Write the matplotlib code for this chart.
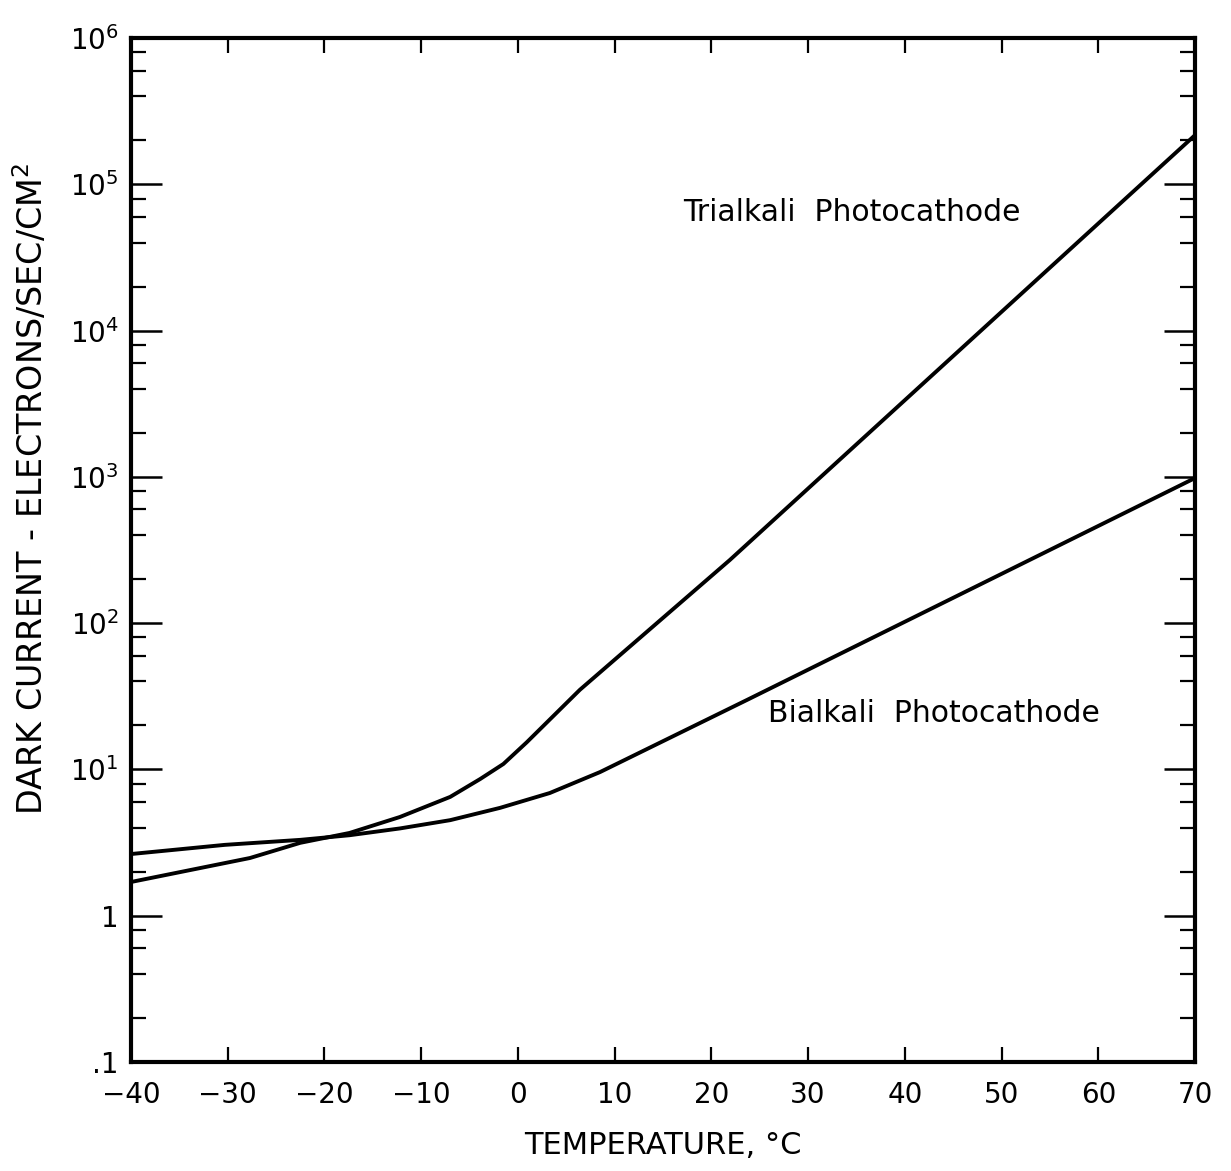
import matplotlib
matplotlib.use("Agg")
import matplotlib.pyplot as plt
from matplotlib.ticker import LogLocator, NullFormatter

# values (temperature in deg C, dark current e-/s/cm^2)
tri_temp = [-40, -27.7, -22.5, -17.4, -12.2, -7.0, -3.9, -1.5, 0.9, 6.4, 21.9, 70]
tri_current = [1.70, 2.48, 3.15, 3.68, 4.73, 6.49, 8.6, 10.9, 15.3, 35, 270, 2.17e5]

bi_temp = [-40, -30.3, -22.5, -17.4, -12.2, -7.0, -1.85, 3.3, 8.5, 23.7, 70]
bi_current = [2.64, 3.05, 3.30, 3.55, 3.95, 4.5, 5.46, 6.9, 9.6, 29.9, 982]

x_ticks = [-40, -30, -20, -10, 0, 10, 20, 30, 40, 50, 60, 70]
x_labels = ["\u221240", "\u221230", "\u221220", "\u221210", "0", "10", "20", "30",
            "40", "50", "60", "70"]
y_ticks = [0.1, 1, 10, 1e2, 1e3, 1e4, 1e5, 1e6]
y_labels = [".1", "1", "$10^1$", "$10^2$", "$10^3$", "$10^4$", "$10^5$", "$10^6$"]

fig = plt.figure(figsize=(12.31, 11.71), dpi=100)
ax = fig.add_axes([0.1064, 0.0931, 0.8644, 0.8744])

ax.plot(tri_temp, tri_current, color="black", lw=2.8, solid_capstyle="round",
        solid_joinstyle="round")
ax.plot(bi_temp, bi_current, color="black", lw=2.8, solid_capstyle="round",
        solid_joinstyle="round")

ax.set_yscale("log")
ax.set_xlim(-40, 70)
ax.set_ylim(0.1, 1e6)

ax.set_xticks(x_ticks)
ax.set_xticklabels(x_labels, fontsize=20)
ax.set_yticks(y_ticks)
ax.set_yticklabels(y_labels, fontsize=20)
ax.yaxis.set_minor_locator(LogLocator(base=10, subs=[2, 4, 6, 8]))
ax.yaxis.set_minor_formatter(NullFormatter())

ax.tick_params(axis="x", which="major", direction="in", length=11, width=1.6,
               top=True, pad=14)
ax.tick_params(axis="y", which="major", direction="in", length=22, width=1.8,
               right=True, pad=9)
ax.tick_params(axis="y", which="minor", direction="in", length=11, width=1.6,
               right=True)

for s in ax.spines.values():
    s.set_linewidth(3)

ax.set_xlabel("TEMPERATURE, °C", fontsize=22)
ax.xaxis.set_label_coords(0.5, -0.067)
ax.set_ylabel("DARK CURRENT - ELECTRONS/SEC/CM$^2$", fontsize=24)
ax.yaxis.set_label_coords(-0.076, 0.56)

ax.text(17.1, 6.4e4, "Trialkali  Photocathode", fontsize=21.5, va="center", ha="left")
ax.text(25.9, 24, "Bialkali  Photocathode", fontsize=21.5, va="center", ha="left")

fig.savefig("out.png", dpi=100, facecolor="white")
